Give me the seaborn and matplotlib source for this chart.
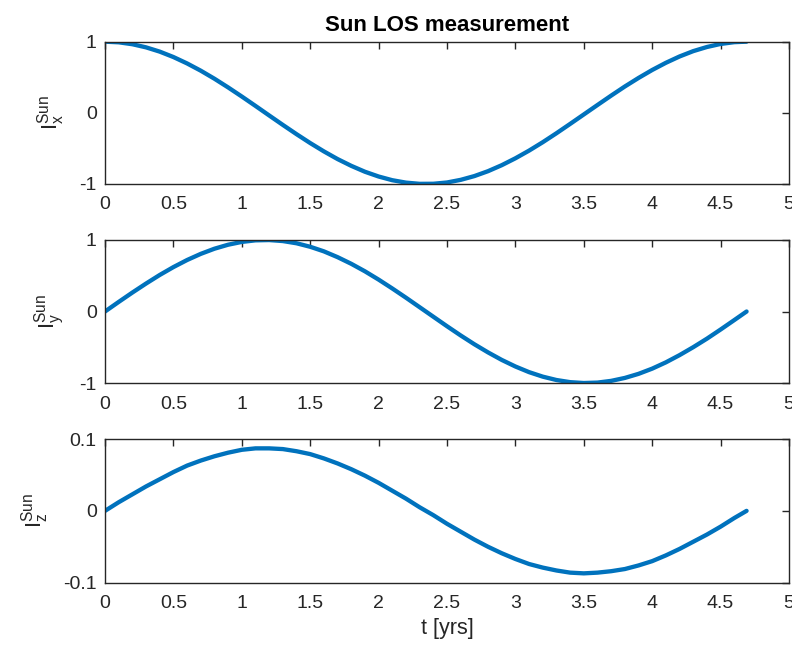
import matplotlib
matplotlib.use('Agg')
import matplotlib.pyplot as plt
import seaborn as sns
import pandas as pd
from matplotlib.ticker import FuncFormatter

# Tempo (anos) e componentes do vetor de linha de visada do Sol
t_anos = [0.0, 0.1, 0.2, 0.3, 0.4, 0.5, 0.6, 0.7, 0.8, 0.9, 1.0, 1.1, 1.2,
          1.3, 1.4, 1.5, 1.6, 1.7, 1.8, 1.9, 2.0, 2.1, 2.2, 2.3, 2.4, 2.5,
          2.6, 2.7, 2.8, 2.9, 3.0, 3.1, 3.2, 3.3, 3.4, 3.5, 3.6, 3.7, 3.8,
          3.9, 4.0, 4.1, 4.2, 4.3, 4.4, 4.5, 4.6, 4.69]
sun_x = [1.0, 0.991, 0.964, 0.920, 0.860, 0.784, 0.694, 0.592, 0.479, 0.357,
         0.229, 0.097, -0.037, -0.170, -0.300, -0.425, -0.542, -0.650, -0.745,
         -0.828, -0.895, -0.947, -0.981, -0.998, -0.997, -0.979, -0.942, -0.889,
         -0.820, -0.736, -0.639, -0.531, -0.413, -0.287, -0.156, -0.023, 0.110,
         0.242, 0.370, 0.490, 0.602, 0.703, 0.792, 0.867, 0.925, 0.968, 0.993, 1.0]
sun_y = [0.0, 0.134, 0.265, 0.391, 0.511, 0.621, 0.720, 0.806, 0.878, 0.934,
         0.973, 0.995, 0.999, 0.985, 0.954, 0.905, 0.841, 0.760, 0.667, 0.562,
         0.446, 0.322, 0.193, 0.060, -0.073, -0.206, -0.335, -0.458, -0.572,
         -0.677, -0.769, -0.848, -0.911, -0.958, -0.988, -1.000, -0.994, -0.970,
         -0.929, -0.872, -0.799, -0.711, -0.610, -0.499, -0.380, -0.252, -0.120, 0.0]
sun_z = [0.0, 0.012, 0.023, 0.034, 0.044, 0.054, 0.063, 0.070, 0.076, 0.081,
         0.085, 0.087, 0.087, 0.086, 0.083, 0.079, 0.073, 0.066, 0.058, 0.049,
         0.039, 0.028, 0.017, 0.005, -0.006, -0.018, -0.029, -0.040, -0.050,
         -0.059, -0.067, -0.074, -0.079, -0.083, -0.086, -0.087, -0.086, -0.084,
         -0.081, -0.076, -0.070, -0.062, -0.053, -0.043, -0.033, -0.022, -0.010, 0.0]

x_ticks = [0, 0.5, 1, 1.5, 2, 2.5, 3, 3.5, 4, 4.5, 5]
y_ticks_xy = [-1, 0, 1]
y_ticks_z = [-0.1, 0, 0.1]
y_labels = [r'$\mathrm{I}^{\mathrm{Sun}}_{\mathrm{x}}$',
            r'$\mathrm{I}^{\mathrm{Sun}}_{\mathrm{y}}$',
            r'$\mathrm{I}^{\mathrm{Sun}}_{\mathrm{z}}$']

df = pd.DataFrame({'t': t_anos, 'x': sun_x, 'y': sun_y, 'z': sun_z})

sns.set_style('white')
plt.rcParams['font.family'] = ['Liberation Sans', 'DejaVu Sans']
plt.rcParams['mathtext.fontset'] = 'custom'
plt.rcParams['mathtext.rm'] = 'Liberation Sans'

cor_eixo = '#262626'
fig = plt.figure(figsize=(7.92, 6.46), dpi=100, facecolor='white')
posicoes = [[0.1326, 0.7152, 0.8636, 0.2203],
            [0.1326, 0.4071, 0.8636, 0.2214],
            [0.1326, 0.0980, 0.8636, 0.2224]]

for i, (col, yt, lab) in enumerate(zip(['x', 'y', 'z'],
                                       [y_ticks_xy, y_ticks_xy, y_ticks_z],
                                       y_labels)):
    ax = fig.add_axes(posicoes[i])
    sns.lineplot(data=df, x='t', y=col, ax=ax, color='#0072BD', linewidth=3.1)
    ax.set_xlim(0, 5)
    ax.set_ylim(yt[0], yt[-1])
    ax.set_xticks(x_ticks)
    ax.set_yticks(yt)
    ax.xaxis.set_major_formatter(FuncFormatter(lambda v, p: f'{v:g}'))
    ax.yaxis.set_major_formatter(FuncFormatter(lambda v, p: f'{v:g}'))
    ax.tick_params(direction='in', length=5, width=1, colors=cor_eixo,
                   labelsize=14, top=True, right=True)
    ax.tick_params(axis='x', pad=9)
    ax.tick_params(axis='y', pad=6)
    for s in ax.spines.values():
        s.set_color(cor_eixo)
        s.set_linewidth(1)
    ax.set_ylabel(lab, fontsize=16, color=cor_eixo, labelpad=9)
    if i < 2:
        ax.set_xlabel('')
    else:
        ax.set_xlabel('t [yrs]', fontsize=15.5, color=cor_eixo, labelpad=4)
    if i == 0:
        ax.set_title('Sun LOS measurement', fontsize=16, fontweight='bold',
                     color='black', pad=8)

plt.savefig('out.png', dpi=100, facecolor='white')
plt.close()
